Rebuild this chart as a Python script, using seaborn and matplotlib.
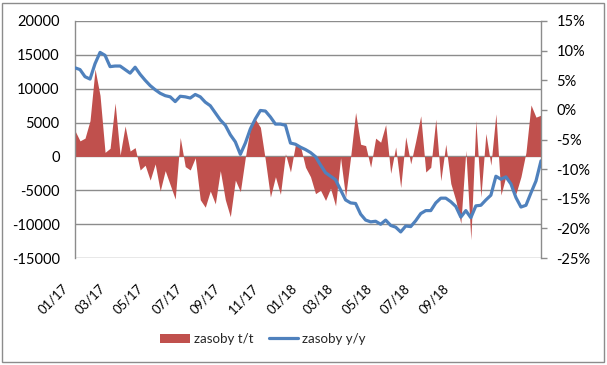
import numpy as np
import pandas as pd
import matplotlib
matplotlib.use("Agg")
import matplotlib.pyplot as plt
import matplotlib.dates as mdates
import matplotlib.transforms as mtransforms
from matplotlib.patches import Rectangle, Patch
from matplotlib.lines import Line2D
import seaborn as sns

# ---------------- data ----------------
series_names = ["zasoby t/t", "zasoby y/y"]
start_date = "2017-01-01"
end_date = "2019-01-16"

change_tt = [3800, 2300, 2700, 5300, 12900, 9000, 600, 1200, 7900, 200,
             4500, 800, 1300, -2000, -1300, -3500, -1100, -5100, -2100, -4200,
             -6300, 2800, -1500, -2000, -200, -6400, -7500, -5100, -7000, -2100,
             -6400, -8900, -3500, -5200, -100, 4300, 5500, 4300, -600, -6000,
             -3000, -5600, 400, -2300, 1800, 1500, -1600, -3000, -5500, -5000,
             -6500, -4700, -7300, -200, -6000, -100, 6500, 1800, 1600, -1600,
             2700, 2100, 4700, -2500, 1400, -4600, 2900, -1100, 2300, 6000,
             -2300, -1600, 5500, -3600, 1800, -4000, -6500, -9900, 900, -12300,
             5300, -6000, 3400, -1300, 6300, -5700, -2900, -4300, -5500, -3000,
             600, 7600, 5800, 6100]

change_yy = [7.1, 6.8, 5.6, 5.2, 7.8, 9.7, 9.2, 7.3, 7.4, 7.4,
             6.8, 6.2, 7.2, 6.0, 5.0, 4.1, 3.4, 2.8, 2.4, 2.2,
             1.4, 2.3, 2.2, 2.0, 2.6, 2.2, 1.3, 0.7, -0.5, -1.7,
             -2.6, -4.2, -5.4, -7.5, -5.6, -3.2, -1.5, -0.1, -0.2, -1.2,
             -2.4, -2.4, -2.6, -5.6, -5.8, -6.3, -6.7, -7.2, -7.9, -9.3,
             -10.6, -11.2, -11.8, -13.5, -15.2, -15.7, -15.8, -17.6, -18.6, -18.9,
             -18.8, -19.3, -18.6, -19.5, -19.8, -20.6, -19.6, -19.7, -18.7, -17.5,
             -17.0, -17.0, -15.7, -14.9, -14.9, -15.5, -16.3, -18.1, -17.0, -18.2,
             -16.2, -16.1, -15.2, -14.4, -11.2, -11.7, -11.3, -12.5, -14.8, -16.4,
             -16.1, -14.0, -12.0, -8.6]

tick_label_dates = ["2017-01-01", "2017-03-01", "2017-05-01", "2017-07-01",
                    "2017-09-01", "2017-11-01", "2018-01-01", "2018-03-01",
                    "2018-05-01", "2018-07-01", "2018-09-01"]
left_ticks = [-15000, -10000, -5000, 0, 5000, 10000, 15000, 20000]
right_ticks = [-25, -20, -15, -10, -5, 0, 5, 10, 15]

# ---------------- styling ----------------
RED = "#C0504D"
BLUE = "#4F81BD"
GRID = "#8C8C8C"
FS = 10.5

sns.set_theme(style="white")
plt.rcParams["font.family"] = ["Lato", "DejaVu Sans"]
plt.rcParams["axes.unicode_minus"] = False

dates = pd.date_range(start_date, end_date, periods=len(change_tt))
df = pd.DataFrame({"date": dates, "tt": change_tt, "yy": change_yy})

W, H = 607, 365
fig = plt.figure(figsize=(W / 100, H / 100), dpi=100)
ax = fig.add_axes([75 / W, 1 - 258 / H, 466 / W, 237 / H])
ax2 = ax.twinx()

# red area (left axis)
ax.fill_between(df["date"], 0, df["tt"], color=RED, linewidth=0, zorder=2)
ax.set_ylim(-15000, 20000)
ax.set_yticks(left_ticks)
ax.set_yticklabels([str(v) for v in left_ticks], fontsize=FS, color="black")
ax.grid(axis="y", color=GRID, linewidth=1.0)
ax.grid(axis="x", visible=False)
ax.set_axisbelow(True)
ax.set_xlim(dates[0], dates[-1])
ax.tick_params(axis="y", length=0, pad=11)

for s in ["top", "right", "bottom"]:
    ax.spines[s].set_visible(False)
ax.spines["left"].set_color(GRID)
ax.spines["left"].set_linewidth(1.0)
ax.set_xlabel("")
ax.set_ylabel("")

# blue line (right axis)
sns.lineplot(data=df, x="date", y="yy", ax=ax2, color=BLUE, linewidth=2.3, zorder=3)
ax2.set_ylim(-25, 15)
ax2.set_yticks(right_ticks)
ax2.set_yticklabels([f"{v}%" for v in right_ticks], fontsize=FS, color="black")
ax2.tick_params(axis="y", length=4, width=1.0, color=GRID, pad=7, direction="out")
ax2.grid(False)
for s in ["top", "left", "bottom"]:
    ax2.spines[s].set_visible(False)
ax2.spines["right"].set_color(GRID)
ax2.spines["right"].set_linewidth(1.0)
ax2.set_xlabel("")
ax2.set_ylabel("")
ax2.set_xlim(dates[0], dates[-1])

# x tick labels (rotated, below plot area)
tick_dates = pd.to_datetime(tick_label_dates)
ax.set_xticks(tick_dates)
ax.tick_params(axis="x", length=0, labelbottom=False)
lab_trans = ax.get_xaxis_transform() + mtransforms.ScaledTranslation(-13 / 100, -24 / 100, fig.dpi_scale_trans)
for d in tick_dates:
    ax.text(d, 0, d.strftime("%m/%y"), transform=lab_trans, rotation=45,
            ha="right", va="top", rotation_mode="anchor", fontsize=9.4, color="black",
            clip_on=False)

# legend
handles = [Patch(facecolor=RED, edgecolor="none"),
           Line2D([0], [0], color=BLUE, linewidth=2.3)]
fig.legend(handles, series_names, loc="center", bbox_to_anchor=(263 / W, 1 - 339 / H),
           ncol=2, frameon=False, fontsize=9.6, handlelength=2.2, handleheight=0.7,
           handletextpad=0.3, columnspacing=1.2)

# outer border
fig.patches.append(Rectangle((2 / W, 3 / H), 602 / W, 359 / H, transform=fig.transFigure,
                             fill=False, edgecolor=GRID, linewidth=1.0))

fig.savefig("out.png", dpi=100)
